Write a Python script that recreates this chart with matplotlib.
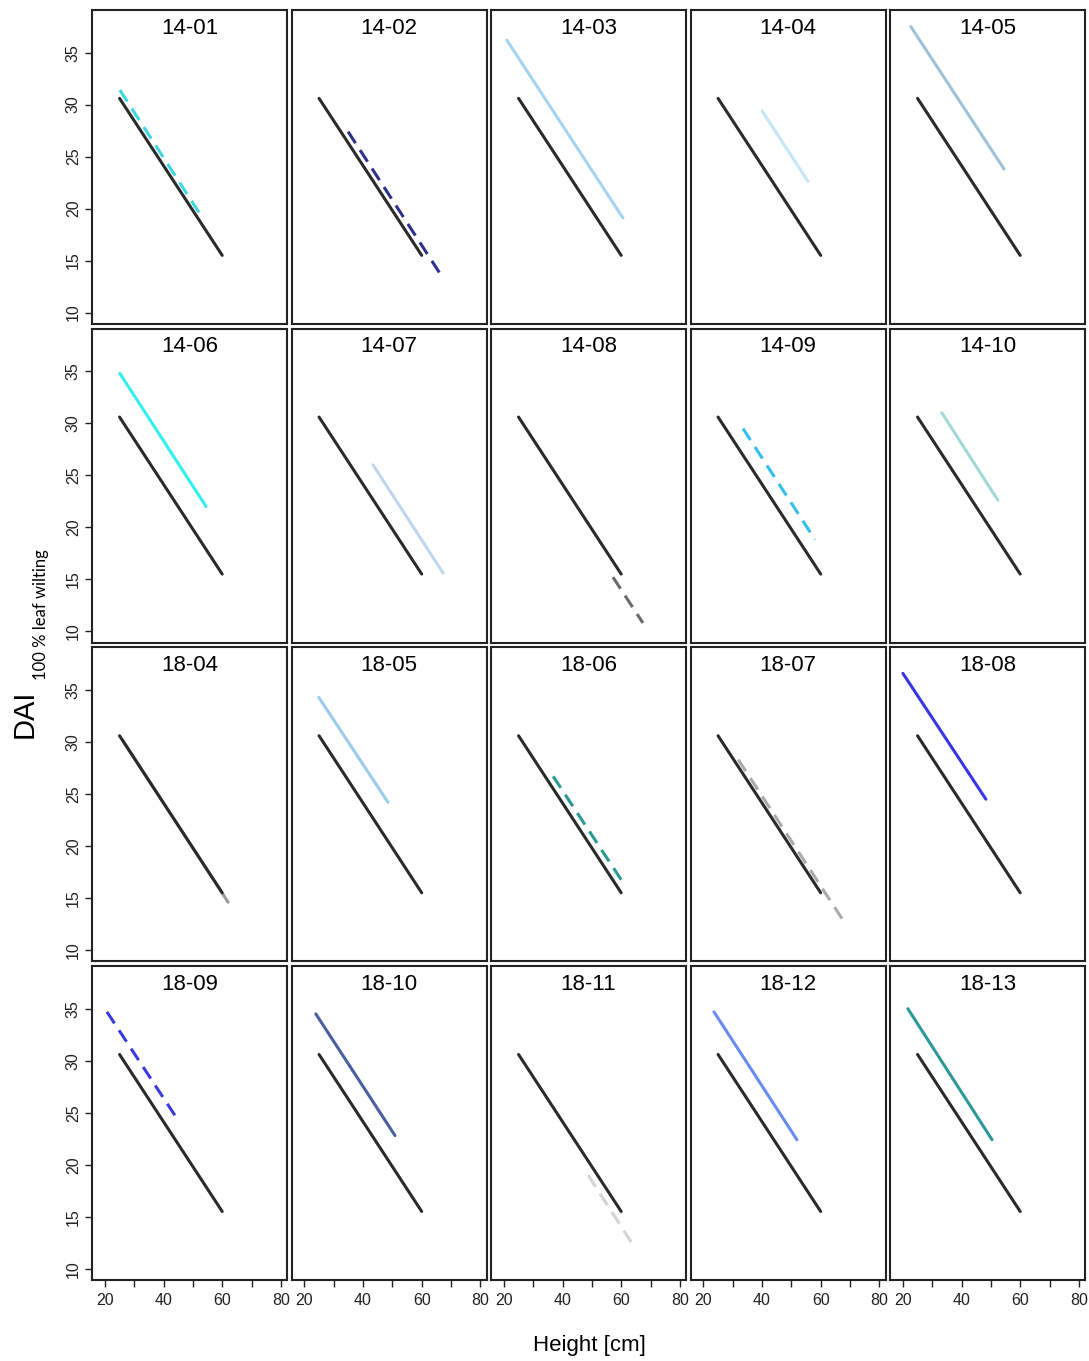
import matplotlib.pyplot as plt

plt.rcParams["font.family"] = ["Liberation Sans", "DejaVu Sans"]

# one panel per line; black line is the common reference fit
panels = ["14-01", "14-02", "14-03", "14-04", "14-05",
          "14-06", "14-07", "14-08", "14-09", "14-10",
          "18-04", "18-05", "18-06", "18-07", "18-08",
          "18-09", "18-10", "18-11", "18-12", "18-13"]
x_start = [25.1, 34.9, 21.0, 40.0, 22.7,
           25.1, 43.4, 57.2, 33.5, 33.3,
           26.0, 24.9, 36.8, 31.9, 20.0,
           20.7, 23.9, 48.7, 23.6, 21.7]
y_start = [31.4, 27.4, 36.2, 29.4, 37.5,
           34.8, 26.0, 15.2, 29.5, 31.0,
           30.2, 34.3, 26.7, 28.3, 36.6,
           34.7, 34.5, 19.0, 34.7, 35.0]
x_end = [53.5, 66.6, 60.6, 55.7, 54.5,
         54.5, 67.3, 67.4, 58.1, 52.4,
         62.0, 48.5, 61.3, 68.0, 48.3,
         44.9, 50.9, 64.0, 51.9, 50.4]
y_end = [19.0, 13.6, 19.1, 22.6, 23.8,
         22.0, 15.6, 10.8, 18.8, 22.6,
         14.6, 24.2, 16.2, 12.7, 24.5,
         24.3, 22.8, 12.3, 22.4, 22.4]
colors = ["#40D8E0", "#2E318C", "#A6D3F2", "#C6E6F8", "#9EC2D8",
          "#33F0EE", "#C0D6EE", "#6A6A6A", "#33BFEE", "#A2D8D8",
          "#999999", "#9CCBEB", "#2A9A90", "#AAAAAA", "#3636E8",
          "#3A3AE0", "#4A5FA0", "#D4D4D4", "#6A8CEE", "#2C9898"]
dashed = [True, True, False, False, False,
          False, False, True, True, False,
          False, False, True, True, False,
          True, False, True, False, False]

ref_x = [25, 60]
ref_y = [30.6, 15.5]

W, H = 1089, 1361
fig = plt.figure(figsize=(W / 100, H / 100), dpi=100)

n_rows, n_cols = 4, 5
for i, name in enumerate(panels):
    r, c = divmod(i, n_cols)
    left = 92 + 199.5 * c
    top = 10 + 318.7 * r
    ax = fig.add_axes([left / W, 1 - (top + 314) / H, 195 / W, 314 / H])
    ax.set_xlim(15.6, 82.1)
    ax.set_ylim(8.9, 39.1)

    if dashed[i]:
        ax.plot([x_start[i], x_end[i]], [y_start[i], y_end[i]],
                color=colors[i], lw=2.2, dashes=(4.5, 2.7), dash_capstyle="butt")
    else:
        ax.plot([x_start[i], x_end[i]], [y_start[i], y_end[i]],
                color=colors[i], lw=2.2, solid_capstyle="round")
    ax.plot(ref_x, ref_y, color="#2A2A2A", lw=2.2, solid_capstyle="round")

    ax.set_title(name, fontsize=16, pad=-17, y=1.0)

    for s in ax.spines.values():
        s.set_linewidth(1.5)
        s.set_color("#222222")

    if c == 0:
        ax.set_yticks([10, 15, 20, 25, 30, 35])
        ax.set_yticklabels(["10", "15", "20", "25", "30", "35"],
                           rotation=90, va="center", fontsize=11.5)
        ax.tick_params(axis="y", length=5, width=1, pad=3, colors="#222222")
    else:
        ax.set_yticks([])
    if r == n_rows - 1:
        ax.set_xticks([20, 30, 40, 50, 60, 70, 80])
        ax.set_xticklabels(["20", "", "40", "", "60", "", "80"], fontsize=11.5)
        ax.tick_params(axis="x", length=5, width=1, pad=4, colors="#222222")
    else:
        ax.set_xticks([])

fig.text(589 / W, 1 - 1346 / H, "Height [cm]", fontsize=16,
         ha="center", va="center")
fig.text(25 / W, 1 - 714 / H, "DAI", fontsize=21, rotation=90,
         ha="center", va="center")
fig.text(41 / W, 1 - 615 / H, "100 % leaf wilting", fontsize=12,
         rotation=90, ha="center", va="center", family=["Lato", "DejaVu Sans"])

fig.savefig("out.png", dpi=100, facecolor="white")
